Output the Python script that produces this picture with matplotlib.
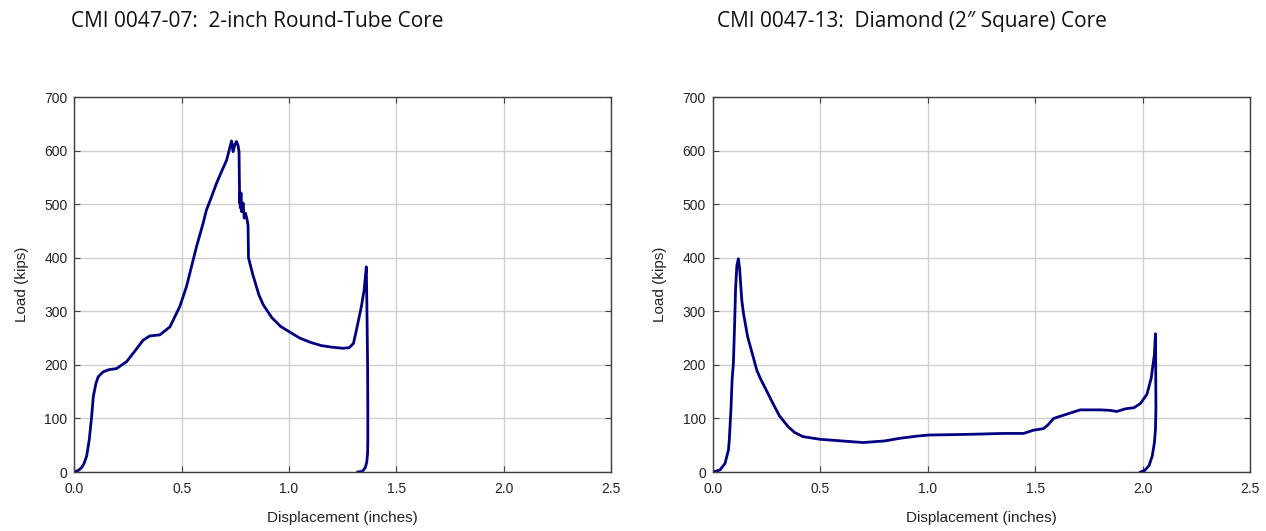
import numpy as np
import matplotlib
matplotlib.use("Agg")
import matplotlib.pyplot as plt

# Load-displacement data
disp_07 = [0.000, 0.018, 0.033, 0.045, 0.057, 0.069, 0.080, 0.088, 0.100, 0.111,
           0.134, 0.160, 0.196, 0.243, 0.280, 0.320, 0.351, 0.398, 0.445, 0.491,
           0.522, 0.569, 0.600, 0.615, 0.640, 0.662, 0.690, 0.709, 0.732, 0.739,
           0.748, 0.755, 0.762, 0.767, 0.768, 0.770, 0.771, 0.773, 0.776, 0.779,
           0.786, 0.791, 0.797, 0.805, 0.809, 0.811, 0.830, 0.860, 0.880, 0.920,
           0.960, 1.000, 1.050, 1.100, 1.150, 1.200, 1.250, 1.280, 1.300, 1.314,
           1.337, 1.350, 1.360, 1.363, 1.366, 1.367, 1.367, 1.366, 1.362, 1.355,
           1.345, 1.337, 1.320]
load_07 = [0, 3, 8, 16, 30, 60, 103, 141, 165, 178,
           187, 191, 193, 206, 225, 246, 254, 256, 271, 309,
           346, 421, 465, 489, 515, 539, 565, 582, 618, 598,
           612, 617, 610, 598, 560, 502, 520, 493, 521, 486,
           502, 474, 483, 470, 460, 400, 370, 330, 312, 288,
           272, 262, 250, 242, 236, 233, 231, 232, 240, 265,
           309, 340, 383, 300, 200, 118, 60, 35, 18, 8,
           3, 1, 0]

disp_13 = [0.000, 0.020, 0.034, 0.057, 0.073, 0.077, 0.085, 0.090, 0.096, 0.102,
           0.106, 0.112, 0.119, 0.125, 0.135, 0.143, 0.162, 0.190, 0.205, 0.221,
           0.250, 0.280, 0.310, 0.350, 0.380, 0.420, 0.500, 0.600, 0.700, 0.800,
           0.872, 0.950, 1.004, 1.151, 1.260, 1.350, 1.446, 1.492, 1.539, 1.560,
           1.586, 1.632, 1.710, 1.803, 1.850, 1.880, 1.920, 1.960, 1.990, 2.020,
           2.040, 2.055, 2.060, 2.061, 2.062, 2.060, 2.055, 2.045, 2.030, 2.010,
           1.990]
load_13 = [0, 2, 4, 16, 41, 60, 120, 172, 203, 280,
           340, 385, 398, 380, 321, 296, 253, 212, 190, 175,
           152, 128, 105, 85, 74, 66, 61, 58, 55, 58,
           63, 67, 69, 70, 71, 72, 72, 78, 81, 88,
           100, 106, 116, 116, 115, 113, 118, 120, 128, 145,
           175, 220, 258, 200, 120, 80, 55, 30, 12, 3,
           0]

titles = ["CMI 0047-07:  2-inch Round-Tube Core",
          "CMI 0047-13:  Diamond (2\u2033 Square) Core"]
title_x = [0.203, 0.720]

plt.rcParams["font.family"] = ["Liberation Sans", "DejaVu Sans"]

fig = plt.figure(figsize=(12.66, 5.31), dpi=100)
ax1 = fig.add_axes([0.0588, 0.1111, 0.4238, 0.7062])
ax2 = fig.add_axes([0.5630, 0.1111, 0.4244, 0.7062])

for ax, xs, ys, title, tx in zip([ax1, ax2], [disp_07, disp_13], [load_07, load_13],
                                 titles, title_x):
    ax.plot(xs, ys, color="#000080", lw=2.0, solid_joinstyle="round")
    ax.set_xlim(0, 2.5)
    ax.set_ylim(0, 700)
    ax.set_xticks(np.arange(0, 2.51, 0.5))
    ax.set_xticklabels([f"{v:.1f}" for v in np.arange(0, 2.51, 0.5)])
    ax.set_yticks(np.arange(0, 701, 100))
    ax.grid(True, color="#d0d0d0", lw=1.0)
    ax.set_axisbelow(True)
    for s in ax.spines.values():
        s.set_color("#404040")
        s.set_linewidth(1.0)
    ax.tick_params(direction="in", length=4, top=True, right=True,
                   labelsize=10, colors="#404040", labelcolor="#222222")
    ax.tick_params(axis="x", pad=7)
    ax.tick_params(axis="y", pad=5)
    ax.set_xlabel("Displacement (inches)", fontsize=11, color="#222222")
    ax.set_ylabel("Load (kips)", fontsize=11, color="#222222")
    ax.xaxis.set_label_coords(0.5, -0.105)
    ax.yaxis.set_label_coords(-0.085, 0.5)
    fig.text(tx, 0.96, title, ha="center", va="center", fontsize=15,
             family=["Open Sans", "DejaVu Sans"], color="#111111")

fig.savefig("out.png", dpi=100)
